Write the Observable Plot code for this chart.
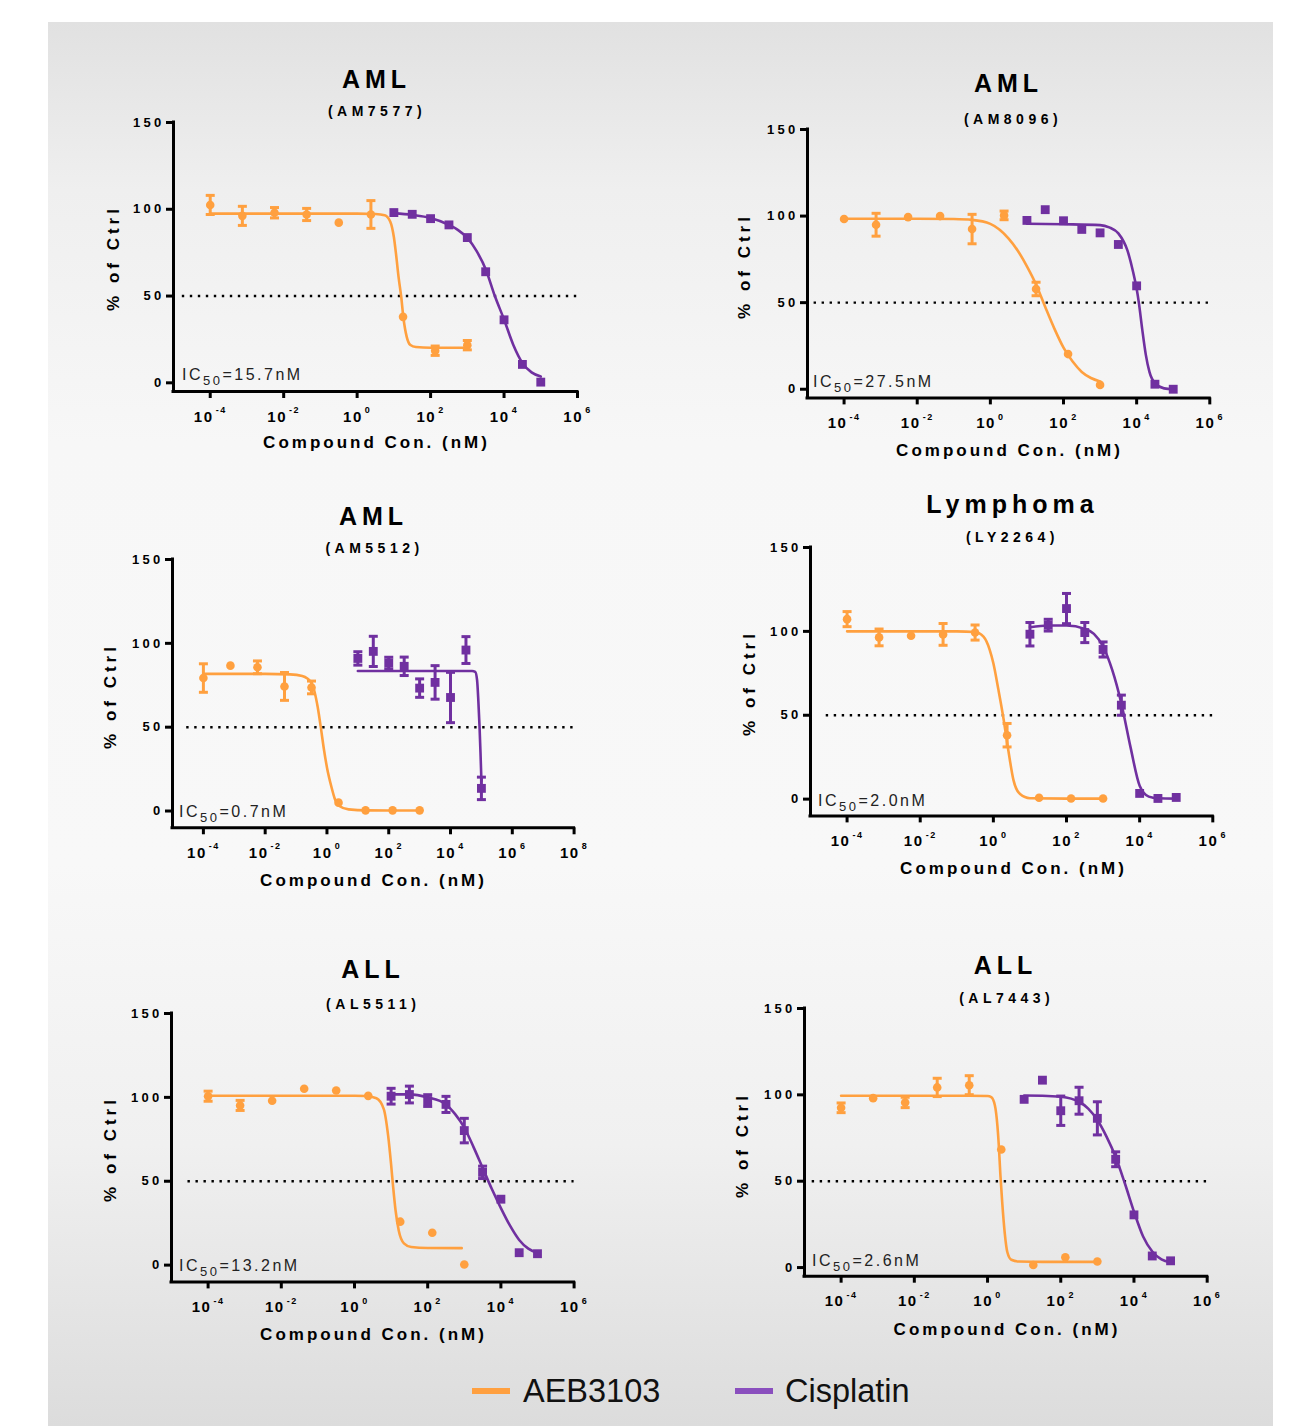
<!DOCTYPE html>
<html>
<head>
<meta charset="utf-8">
<script src="https://cdn.jsdelivr.net/npm/d3@7"></script>
<script src="https://cdn.jsdelivr.net/npm/@observablehq/plot@0.6"></script>
<style>
  html, body { margin: 0; padding: 0; background: #fff; }
  body { width: 1314px; height: 1426px; position: relative; overflow: hidden; font-family: "Liberation Sans", Arial, sans-serif; }
  #bg { position: absolute; left: 48px; top: 22px; width: 1225px; height: 1404px;
        background: linear-gradient(to bottom, #e1e1e1 0%, #efefef 12%, #f7f7f7 30%, #f8f8f8 60%, #f0f0f0 80%, #dcdcdc 100%); }
  .panel { position: absolute; }
  #overlay { position: absolute; left: 0; top: 0; }
</style>
</head>
<body>
<div id="bg"></div>
<script>
// ---------------- DATA ----------------
// log10 of concentration (nM)
const aebExp = [-4, -3.125, -2.25, -1.375, -0.5, 0.375, 1.25, 2.125, 3];
const cisExp = [1, 1.5, 2, 2.5, 3, 3.5, 4, 4.5, 5];
const yTicks = [0, 50, 100, 150];
const xTickExp6 = [-4, -2, 0, 2, 4, 6];
const xTickExp8 = [-4, -2, 0, 2, 4, 6, 8];
const seriesNames = ["AEB3103", "Cisplatin"];

// Panel titles
const titles = ["AML", "AML", "AML", "Lymphoma", "ALL", "ALL"];
const models = ["(AM7577)", "(AM8096)", "(AM5512)", "(LY2264)", "(AL5511)", "(AL7443)"];
const ic50s = ["15.7", "27.5", "0.7", "2.0", "13.2", "2.6"];

// AM7577
const am7577AebMean = [102.5, 96.2, 98, 97, 92.3, 97, 38, 18.5, 21.7];
const am7577AebErr  = [5.5, 5.5, 3, 3.5, 0, 8, 0, 2.7, 2.7];
const am7577CisMean = [98.1, 97.1, 94.6, 91, 83.7, 64, 36.3, 10.6, 0.4];
const am7577CisErr  = [0, 0, 0, 0, 0, 0, 0, 0, 0];
const am7577AebFit = [[-4,97.5],[-2,97.5],[0,97.5],[0.5,97.3],[0.75,96.6],[0.9,93],[1.0,84],[1.06,74],[1.13,60.6],[1.2,49.6],[1.26,37.5],[1.35,26.5],[1.45,21.8],[1.6,20.6],[2,20.2],[3,20.2]];
const am7577CisFit = [[1.0,97.8],[1.5,96.8],[2.0,95],[2.5,91],[2.75,88],[3.0,83.5],[3.25,76],[3.5,65.5],[3.75,50],[4.0,36.5],[4.25,22],[4.5,11.5],[4.75,6],[5.0,3.6]];

// AM8096
const am8096AebMean = [98.3, 95, 99.4, 100, 92.5, 100.4, 57.9, 20.3, 2.5];
const am8096AebErr  = [0, 6.6, 0, 0, 8.5, 2.5, 3.9, 0, 0];
const am8096CisMean = [97.5, 103.7, 97.3, 92.3, 90.3, 83.6, 59.7, 2.9, 0];
const am8096CisErr  = [0, 0, 0, 0, 0, 0, 0, 0, 0];
const am8096AebFit = [[-4,98.5],[-3,98.5],[-2,98.5],[-1,98.3],[-0.5,97.8],[0,95.5],[0.5,87],[0.75,80],[1.0,71],[1.25,60.5],[1.5,47.5],[1.75,35],[2.0,24],[2.25,16],[2.5,10],[2.75,6.5],[3.0,4.5]];
const am8096CisFit = [[1.0,95.6],[2.0,95.3],[3.0,94.8],[3.25,93.5],[3.5,90],[3.75,80],[3.9,68],[4.0,58],[4.06,50],[4.15,35],[4.25,20],[4.35,10],[4.5,3.5],[4.75,0.5],[5.0,0]];

// AM5512
const am5512AebMean = [79.3, 86.7, 85.7, 74.3, 73.7, 5, 0.4, 0.4, 0.4];
const am5512AebErr  = [8.5, 0, 3.8, 8.3, 3.8, 0, 0, 0, 0];
const am5512CisMean = [91, 95.2, 88.2, 86.3, 73.3, 76.7, 67.7, 96, 13.5];
const am5512CisErr  = [4, 9, 3.5, 5.5, 5.5, 10, 15, 8, 6.7];
const am5512AebFit = [[-4,81.8],[-2,81.8],[-1.2,81.5],[-0.8,80.5],[-0.5,76.5],[-0.4,71],[-0.3,62],[-0.2,50],[-0.1,37],[0,26],[0.15,14],[0.25,7.5],[0.4,3],[0.7,1],[1.3,0.4],[3,0.3]];
const am5512CisFit = [[1.0,83.5],[2,83.5],[3,83.5],[4,83.5],[4.7,83.5],[4.8,83],[4.86,78],[4.9,66],[4.94,50],[4.97,35],[5.0,18]];

// LY2264
const ly2264AebMean = [107.3, 96.4, 97.4, 98.2, 99.3, 38.1, 0.8, 0.4, 0.4];
const ly2264AebErr  = [4.5, 5, 0, 6.5, 4.5, 7, 0, 0, 0];
const ly2264CisMean = [98.3, 103.7, 113.6, 99.3, 89.2, 56, 3.4, 0.4, 1];
const ly2264CisErr  = [7, 3.5, 9, 6, 4.5, 6, 0, 0, 0];
const ly2264AebFit = [[-4,100],[-2,100],[-1,100],[-0.5,99.6],[-0.27,96.8],[-0.1,89],[0,81],[0.14,65],[0.27,49],[0.41,29],[0.55,11.3],[0.73,3],[1.0,0.5],[2,0.3],[3,0.3]];
const ly2264CisFit = [[1.0,102.5],[1.5,103.5],[2.0,103.5],[2.5,101.5],[2.75,98.5],[3.0,91],[3.25,77],[3.5,57],[3.75,31],[4.0,8],[4.25,1.5],[4.5,0.5],[5.0,0.3]];

// AL5511
const al5511AebMean = [100.7, 95.2, 98, 105.1, 104.1, 100.9, 25.9, 19.3, 0.4];
const al5511AebErr  = [3, 3, 0, 0, 0, 0, 0, 0, 0];
const al5511CisMean = [100.7, 101.7, 98.1, 95.8, 80.2, 55.3, 39.3, 7.4, 6.8];
const al5511CisErr  = [4.7, 5, 3.5, 4.8, 7.3, 3.7, 0, 0, 0];
const al5511AebFit = [[-4,101],[-2,101],[0,101],[0.3,100.8],[0.6,99.5],[0.8,93],[0.92,77],[1.0,60],[1.05,48],[1.12,33],[1.21,20.5],[1.35,13],[1.55,10.8],[2,10.2],[2.93,10.1]];
const al5511CisFit = [[1.0,101.8],[1.5,101.8],[2.0,100],[2.5,95.8],[2.75,90],[3.0,82],[3.25,70.5],[3.5,58],[3.75,45.5],[4.0,34],[4.25,23.5],[4.5,15],[4.75,9.8],[5.0,7.2]];

// AL7443
const al7443AebMean = [92.5, 98.1, 95.6, 104.3, 105.6, 68.4, 1.5, 6, 3.5];
const al7443AebErr  = [2.8, 0, 3, 5.3, 5.5, 0, 0, 0, 0];
const al7443CisMean = [97.4, 108.5, 90.8, 96.6, 86.4, 62.7, 30.5, 6.7, 3.9];
const al7443CisErr  = [0, 0, 8.5, 7.8, 9.6, 4.3, 0, 0, 0];
const al7443AebFit = [[-4,99.5],[-2,99.5],[-0.5,99.5],[0,99.3],[0.1,98.7],[0.2,94],[0.27,82],[0.31,70],[0.35,54],[0.4,38],[0.47,20],[0.54,9],[0.65,4.5],[0.85,3.5],[1.5,3.3],[3.0,3.3]];
const al7443CisFit = [[1.0,99.6],[1.5,99.5],[2.0,98.9],[2.5,96],[2.75,92],[3.0,85.4],[3.25,75.8],[3.5,64],[3.75,48.8],[4.0,32.4],[4.25,18],[4.5,9.3],[4.75,4.8],[5.0,3.1]];

// ---------------- LAYOUT / STYLE ----------------
const ORANGE = "#FFA03F";
const PURPLE = "#7030A0";
const FONT = "'Liberation Sans', Arial, Helvetica, sans-serif";

const panelData = [
  {aebMean: am7577AebMean, aebErr: am7577AebErr, cisMean: am7577CisMean, cisErr: am7577CisErr, aebFit: am7577AebFit, cisFit: am7577CisFit},
  {aebMean: am8096AebMean, aebErr: am8096AebErr, cisMean: am8096CisMean, cisErr: am8096CisErr, aebFit: am8096AebFit, cisFit: am8096CisFit},
  {aebMean: am5512AebMean, aebErr: am5512AebErr, cisMean: am5512CisMean, cisErr: am5512CisErr, aebFit: am5512AebFit, cisFit: am5512CisFit},
  {aebMean: ly2264AebMean, aebErr: ly2264AebErr, cisMean: ly2264CisMean, cisErr: ly2264CisErr, aebFit: ly2264AebFit, cisFit: ly2264CisFit},
  {aebMean: al5511AebMean, aebErr: al5511AebErr, cisMean: al5511CisMean, cisErr: al5511CisErr, aebFit: al5511AebFit, cisFit: al5511CisFit},
  {aebMean: al7443AebMean, aebErr: al7443AebErr, cisMean: al7443CisMean, cisErr: al7443CisErr, aebFit: al7443AebFit, cisFit: al7443CisFit}
];

const layout = [
  {frame:{l:173, r:577, t:122, b:391}, xMax:6, yMin:-5, dotStart:-4.76, tX:374, tY:88, sX:375, sY:116, yLX:119, yLY:256, xLX:375, xLY:448, icX:182, icY:380},
  {frame:{l:806.7, r:1209, t:129.3, b:397.7}, xMax:6, yMin:-5, dotStart:-4.82, tX:1006, tY:92, sX:1011, sY:124, yLX:750, yLY:264, xLX:1008, xLY:456, icX:813, icY:387},
  {frame:{l:171.7, r:573.3, t:559, b:827.3}, xMax:8, yMin:-10, dotStart:-4.54, tX:371, tY:525, sX:372.5, sY:553, yLX:116, yLY:694, xLX:372, xLY:886, icX:179, icY:817},
  {frame:{l:810, r:1212.3, t:547.3, b:815.7}, xMax:6, yMin:-10, dotStart:-4.57, tX:1010, tY:513, sX:1010.5, sY:541.5, yLX:755, yLY:681, xLX:1012, xLY:874, icX:818, icY:806},
  {frame:{l:170.7, r:573.3, t:1013.3, b:1281.7}, xMax:6, yMin:-10, dotStart:-4.55, tX:370.5, tY:978, sX:371.3, sY:1009, yLX:116, yLY:1147, xLX:372, xLY:1340, icX:179, icY:1271},
  {frame:{l:804, r:1206.7, t:1008.3, b:1276}, xMax:6, yMin:-5, dotStart:-4.79, tX:1003, tY:974, sX:1004.7, sY:1002.5, yLX:748, yLY:1143, xLX:1005.5, xLY:1335, icX:812, icY:1266}
];

const capSymbol = { draw(ctx) { ctx.moveTo(-4.5, 0); ctx.lineTo(4.5, 0); } };

function buildPanel(L, D) {
  const f = L.frame;
  const mL = 60, mR = 30, mT = 12, mB = 46;
  const width = (f.r - f.l) + mL + mR;
  const height = (f.b - f.t) + mT + mB;
  const xMaxV = 10 ** L.xMax;
  const pts = (exps, means, errs) => exps.map((e, i) => ({x: 10 ** e, y: means[i], e: errs[i]}));
  const aeb = pts(aebExp, D.aebMean, D.aebErr);
  const cis = pts(cisExp, D.cisMean, D.cisErr);
  const errA = aeb.filter(p => p.e > 0), errC = cis.filter(p => p.e > 0);
  const fitA = D.aebFit.map(([e, y]) => ({x: 10 ** e, y}));
  const fitC = D.cisFit.map(([e, y]) => ({x: 10 ** e, y}));
  const ticks = (L.xMax === 8 ? xTickExp8 : xTickExp6).map(e => 10 ** e);

  const errMarks = (data, color) => [
    Plot.ruleX(data, {x: "x", y1: d => d.y - d.e, y2: d => d.y + d.e, stroke: color, strokeWidth: 3}),
    Plot.dot(data, {x: "x", y: d => d.y + d.e, symbol: capSymbol, fill: "none", stroke: color, strokeWidth: 3}),
    Plot.dot(data, {x: "x", y: d => d.y - d.e, symbol: capSymbol, fill: "none", stroke: color, strokeWidth: 3})
  ];

  const svg = Plot.plot({
    width, height,
    marginLeft: mL, marginRight: mR, marginTop: mT, marginBottom: mB,
    style: {background: "transparent", fontFamily: FONT, fontSize: "13px", fontWeight: "bold", letterSpacing: "3.3px", color: "#000", overflow: "visible"},
    x: {type: "log", domain: [1e-5, xMaxV]},
    y: {domain: [L.yMin, 150]},
    marks: [
      Plot.ruleY([50], {x1: 10 ** L.dotStart, x2: xMaxV, stroke: "#000", strokeWidth: 2.4, strokeDasharray: "2.4,5.6"}),
      Plot.line(fitA, {x: "x", y: "y", stroke: ORANGE, strokeWidth: 2.6, curve: "monotone-x"}),
      Plot.line(fitC, {x: "x", y: "y", stroke: PURPLE, strokeWidth: 2.6, curve: "monotone-x"}),
      ...errMarks(errA, ORANGE),
      ...errMarks(errC, PURPLE),
      Plot.dot(aeb, {x: "x", y: "y", r: 4.3, fill: ORANGE, stroke: "none"}),
      Plot.dot(cis, {x: "x", y: "y", r: 5, symbol: "square", fill: PURPLE, stroke: "none"}),
      Plot.ruleX([1e-5], {y1: L.yMin, y2: 150, stroke: "#000", strokeWidth: 3, strokeLinecap: "square"}),
      Plot.ruleY([L.yMin], {x1: 1e-5, x2: xMaxV, stroke: "#000", strokeWidth: 3, strokeLinecap: "square"}),
      Plot.axisY({ticks: yTicks, tickSize: 7, tickPadding: 2, strokeWidth: 3, tickFormat: d => String(d), label: null}),
      Plot.axisX({ticks, tickSize: 7, tickPadding: 12.5, strokeWidth: 3, tickFormat: d => String(Math.round(Math.log10(d))), label: null})
    ]
  });

  // superscript exponents on x tick labels
  d3.select(svg).selectAll('g[aria-label="x-axis tick label"] text').each(function() {
    const t = d3.select(this);
    const exp = t.text().replace("\u2212", "-");
    t.text(null).attr("font-size", "15px").attr("letter-spacing", "1.6px");
    t.append("tspan").text("10");
    t.append("tspan").attr("dx", 2).attr("dy", -8.5).attr("font-size", "9px").attr("letter-spacing", "1.5px").text(exp);
  });

  const div = document.createElement("div");
  div.className = "panel";
  div.style.left = (f.l - mL) + "px";
  div.style.top = (f.t - mT) + "px";
  div.appendChild(svg);
  document.body.appendChild(div);
}

layout.forEach((L, i) => buildPanel(L, panelData[i]));

// ---------------- TEXT OVERLAY ----------------
const ov = d3.select("body").append("svg").attr("id", "overlay")
  .attr("width", 1314).attr("height", 1426)
  .style("font-family", FONT);

layout.forEach((L, i) => {
  ov.append("text").attr("x", L.tX + 2.5).attr("y", L.tY).attr("text-anchor", "middle")
    .attr("font-size", 25).attr("font-weight", "bold").attr("letter-spacing", "5px").text(titles[i]);
  ov.append("text").attr("x", L.sX + 2).attr("y", L.sY).attr("text-anchor", "middle")
    .attr("font-size", 14).attr("font-weight", "bold").attr("letter-spacing", "4.5px").text(models[i]);
  ov.append("text").attr("transform", `translate(${L.yLX},${L.yLY + 2}) rotate(-90)`).attr("text-anchor", "middle")
    .attr("font-size", 17).attr("font-weight", "bold").attr("letter-spacing", "4px").text("% of Ctrl");
  ov.append("text").attr("x", L.xLX + 1.5).attr("y", L.xLY).attr("text-anchor", "middle")
    .attr("font-size", 17).attr("font-weight", "bold").attr("letter-spacing", "3px").text("Compound Con. (nM)");
  const ic = ov.append("text").attr("x", L.icX).attr("y", L.icY)
    .attr("font-size", 16).attr("letter-spacing", "2.5px").attr("fill", "#222");
  ic.append("tspan").text("IC");
  ic.append("tspan").attr("dy", 5).attr("font-size", 13).text("50");
  ic.append("tspan").attr("dy", -5).text(`=${ic50s[i]}nM`);
});

// legend
const legend = [
  {name: seriesNames[0], color: "#FFA040", sx: 472, tx: 523},
  {name: seriesNames[1], color: "#8A4FBE", sx: 735, tx: 785}
];
legend.forEach(l => {
  ov.append("rect").attr("x", l.sx).attr("y", 1388).attr("width", 38).attr("height", 6).attr("fill", l.color);
  ov.append("text").attr("x", l.tx).attr("y", 1402)
    .attr("font-size", 32.5).attr("fill", "#111").text(l.name);
});
</script>
</body>
</html>
